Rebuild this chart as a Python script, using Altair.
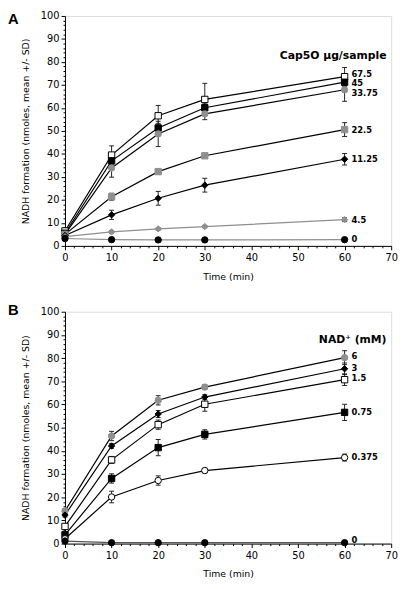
import altair as alt
import pandas as pd

F = "DejaVu Sans"
GRAY = "#8f8f8f"

times = [0, 10, 20, 30, 60]

# Panel A: Cap5O ug/sample
a_names = ["67.5", "45", "33.75", "22.5", "11.25", "4.5", "0"]
a_means = [
    [6.5, 39.5, 56.6, 63.7, 73.6],
    [5.5, 37.0, 51.3, 60.1, 71.2],
    [5.0, 33.9, 48.7, 57.4, 67.9],
    [5.0, 21.4, 32.3, 39.2, 50.6],
    [4.5, 13.5, 20.7, 26.4, 37.7],
    [4.0, 6.1, 7.4, 8.4, 11.4],
    [3.2, 2.7, 2.6, 2.6, 2.7],
]
a_sds = [
    [1.0, 4.0, 4.5, 7.0, 4.0],
    [1.0, 2.0, 2.0, 2.0, 2.0],
    [1.0, 4.0, 5.5, 2.5, 5.0],
    [0.5, 1.5, 0.8, 0.8, 3.0],
    [0.5, 2.0, 3.0, 3.0, 2.5],
    [0.3, 0.5, 0.5, 0.5, 0.8],
    [0.3, 0.3, 0.3, 0.3, 0.3],
]
a_label_y = [74.8, 70.8, 66.6, 50.5, 37.7, 11.2, 3.0]
a_shapes = ["square", "square", "circle", "square", "diamond", "diamond", "circle"]
a_fills = ["white", "black", GRAY, GRAY, "black", GRAY, "black"]
a_strokes = ["black", "black", GRAY, GRAY, "black", GRAY, "black"]
a_lines = ["black", "black", "black", "black", "black", GRAY, GRAY]

# Panel B: NAD+ (mM)
b_names = ["6", "3", "1.5", "0.75", "0.375", "0"]
b_means = [
    [14.1, 46.4, 61.8, 67.5, 80.2],
    [12.3, 42.1, 55.9, 63.2, 75.4],
    [7.4, 36.1, 51.3, 60.1, 70.7],
    [3.8, 28.1, 41.4, 47.1, 56.6],
    [2.1, 20.1, 27.2, 31.5, 37.1],
    [1.1, 0.4, 0.4, 0.4, 0.4],
]
b_sds = [
    [1.0, 2.0, 2.0, 1.0, 3.0],
    [0.8, 1.0, 1.5, 1.0, 2.5],
    [1.0, 1.5, 2.0, 3.0, 2.5],
    [0.8, 2.0, 3.5, 2.0, 3.5],
    [0.8, 2.5, 2.0, 1.0, 1.5],
    [0.3, 0.3, 0.3, 0.3, 0.3],
]
b_label_y = [80.7, 75.9, 71.2, 56.8, 37.2, 1.5]
b_shapes = ["circle", "diamond", "square", "square", "circle", "circle"]
b_fills = [GRAY, "black", "white", "black", "white", "black"]
b_strokes = [GRAY, "black", "black", "black", "black", "black"]
b_lines = ["black", "black", "black", "black", "black", "#555555"]


def build(panel, names, means, sds):
    rows = []
    for n, ms, ss in zip(names, means, sds):
        for t, m, s in zip(times, ms, ss):
            rows.append({"key": f"{panel}|{n}", "name": n, "time": t,
                         "mean": m, "lo": m - s, "hi": m + s})
    return pd.DataFrame(rows)


XAXIS = alt.Axis(
    values=list(range(0, 71, 2)),
    labelExpr="datum.value % 10 === 0 ? datum.label : ''",
    tickSize={"condition": {"test": "datum.value % 10 === 0", "value": 4}, "value": 2},
    labelOverlap=False, labelFlush=False, grid=False, domainColor="black", tickColor="black",
    labelFont=F, labelFontSize=10, labelColor="black", labelPadding=3,
    title="Time (min)", titleFont=F, titleFontSize=9.5, titleFontWeight="normal",
    titleColor="black", titlePadding=9,
)
YAXIS = alt.Axis(
    values=list(range(0, 101, 2)),
    labelExpr="datum.value % 10 === 0 ? datum.label : ''",
    tickSize={"condition": {"test": "datum.value % 10 === 0", "value": 4}, "value": 2},
    labelOverlap=False, labelFlush=False, grid=False, domainColor="black", tickColor="black",
    labelFont=F, labelFontSize=10, labelColor="black", labelPadding=2,
    title="NADH formation (nmoles, mean +/- SD)", titleFont=F, titleFontSize=9.5,
    titleFontWeight="normal", titleColor="black", titlePadding=10,
)


def panel(letter, names, means, sds, label_y, shapes, fills, strokes, lines_c,
          ann_text, ann_y, height, letter_y):
    df = build(letter, names, means, sds)
    keys = [f"{letter}|{n}" for n in names]
    xs = alt.Scale(domain=[0, 70], nice=False)
    ys = alt.Scale(domain=[0, 100], nice=False)
    X = alt.X("time:Q", scale=xs, axis=XAXIS)
    Y = alt.Y("mean:Q", scale=ys, axis=YAXIS)
    base = alt.Chart(df)
    lines = base.mark_line(strokeWidth=1.2).encode(
        x=X, y=Y,
        color=alt.Color("key:N", scale=alt.Scale(domain=keys, range=lines_c), legend=None),
        detail="key:N", order="time:Q",
    )
    err = base.mark_rule(strokeWidth=1, color="#222").encode(
        x=X, y=alt.Y("lo:Q", scale=ys, axis=YAXIS), y2="hi:Q")
    cap_hi = base.mark_tick(orient="horizontal", size=5, thickness=1, color="#222", opacity=1).encode(
        x=X, y=alt.Y("hi:Q", scale=ys, axis=YAXIS))
    cap_lo = base.mark_tick(orient="horizontal", size=5, thickness=1, color="#222", opacity=1).encode(
        x=X, y=alt.Y("lo:Q", scale=ys, axis=YAXIS))
    pts = base.mark_point(size=42, strokeWidth=1, opacity=1).encode(
        x=X, y=Y,
        shape=alt.Shape("key:N", scale=alt.Scale(domain=keys, range=shapes), legend=None),
        fill=alt.Fill("key:N", scale=alt.Scale(domain=keys, range=fills), legend=None),
        stroke=alt.Stroke("key:N", scale=alt.Scale(domain=keys, range=strokes), legend=None),
    )
    lab_df = pd.DataFrame({"name": names, "ly": label_y, "lx": [times[-1]] * len(names)})
    labels = alt.Chart(lab_df).mark_text(
        align="left", baseline="middle", dx=7, font=F, fontSize=8.5,
        fontWeight="bold", color="black",
    ).encode(x=alt.X("lx:Q", scale=xs, axis=XAXIS), y=alt.Y("ly:Q", scale=ys, axis=YAXIS),
             text="name:N")
    ann = alt.Chart(pd.DataFrame({"t": [ann_text]})).mark_text(
        align="right", baseline="middle", font=F, fontSize=11,
        fontWeight="bold", color="black",
    ).encode(x=alt.datum(69, scale=xs, axis=XAXIS), y=alt.datum(ann_y, scale=ys, axis=YAXIS),
             text="t:N")
    let = alt.Chart(pd.DataFrame({"t": [letter]})).mark_text(
        align="left", baseline="top", font="Liberation Sans", fontSize=15,
        fontWeight="bold", color="black",
    ).encode(x=alt.value(-58), y=alt.value(letter_y), text="t:N")
    return alt.layer(lines, err, cap_hi, cap_lo, pts, labels, ann, let).properties(
        width=332, height=height,
    )


pa = panel("A", a_names, a_means, a_sds, a_label_y, a_shapes, a_fills, a_strokes, a_lines,
           "Cap5O \u03bcg/sample", 82.5, 234, -4)
pb = panel("B", b_names, b_means, b_sds, b_label_y, b_shapes, b_fills, b_strokes, b_lines,
           "NAD\u207a  (mM)", 87.8, 236, -9)

chart = alt.vconcat(pa, pb, spacing=21).resolve_scale(
    color="independent", shape="independent", fill="independent", stroke="independent"
).properties(
    padding={"top": -3, "left": -1, "right": 4, "bottom": 0}
).configure_view(stroke="#444", strokeWidth=1).configure_axis(
    labelOverlap=False
).configure(background="white")

chart.save("out.html", embed_options={"renderer": "svg", "actions": False})
